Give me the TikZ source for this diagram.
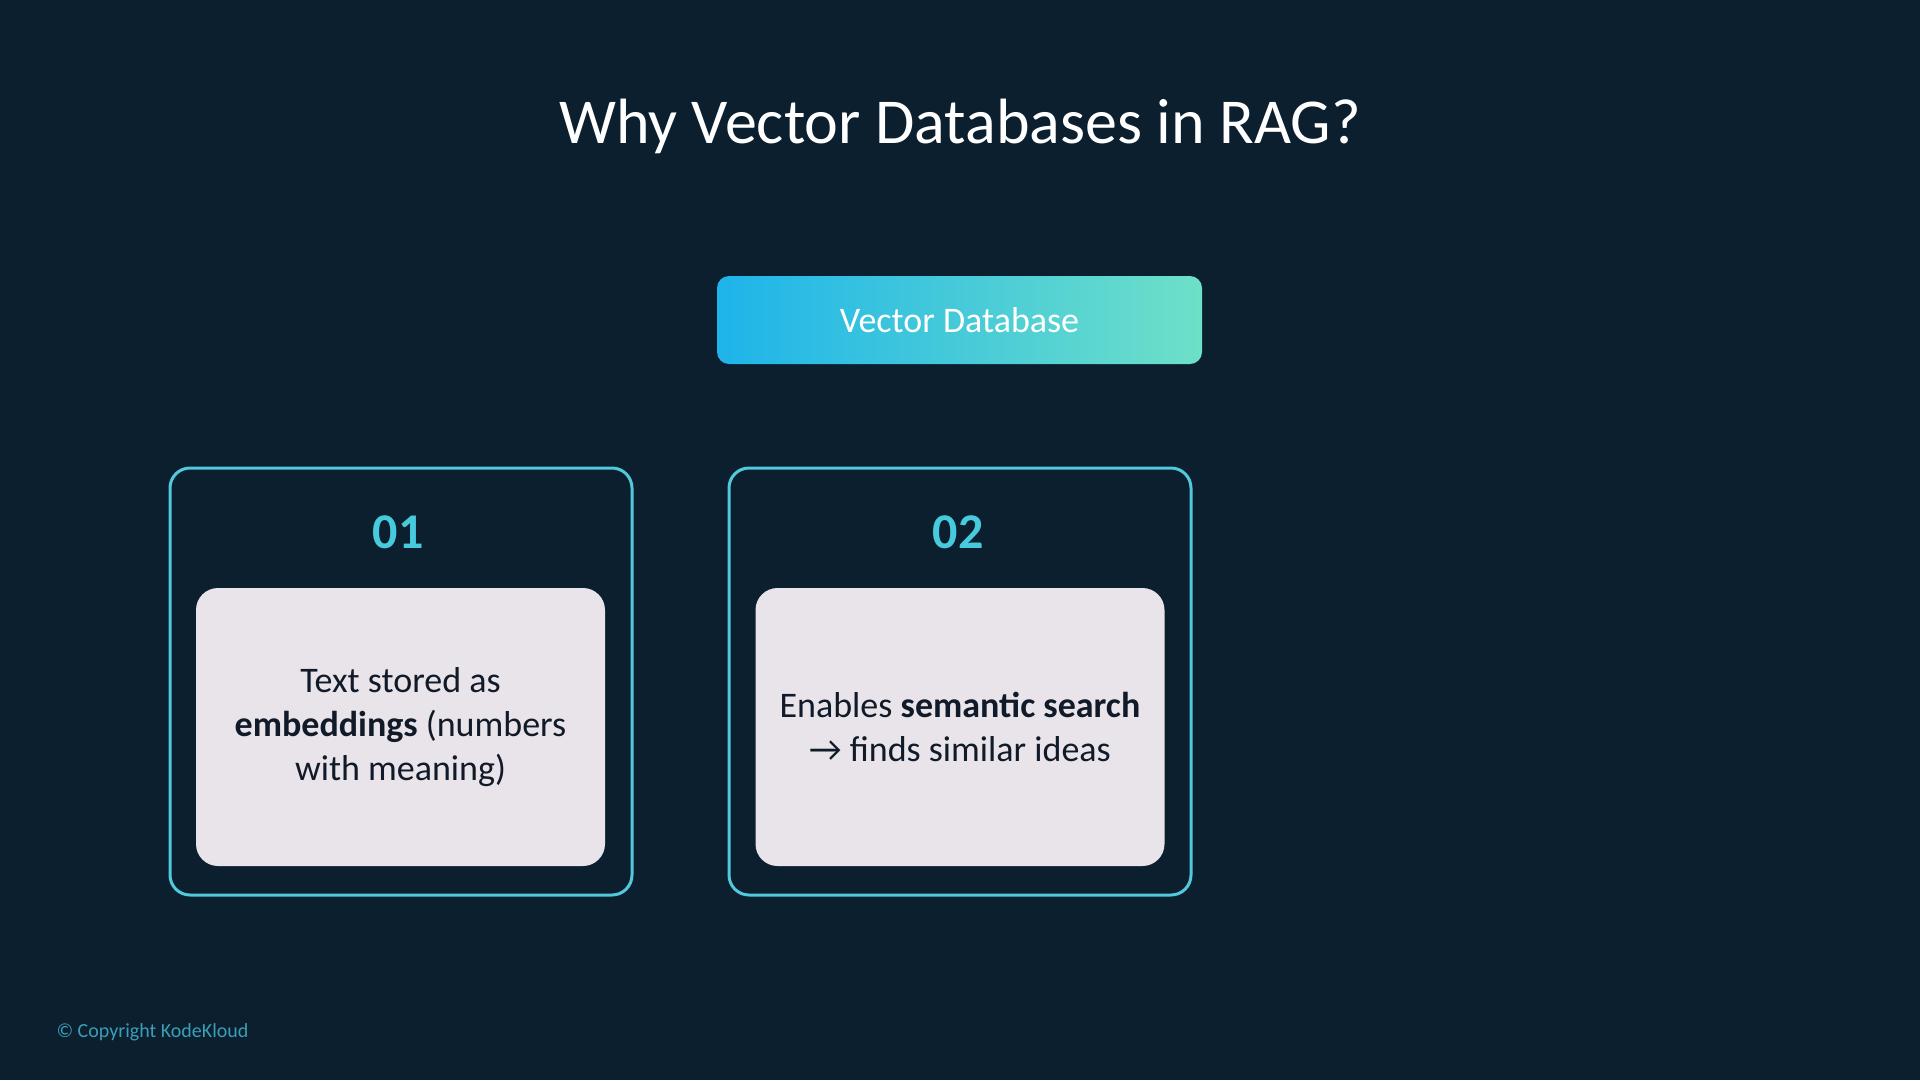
\documentclass[tikz,border=0pt]{standalone}
\usepackage{fontspec}
\setmainfont{Carlito}
\definecolor{bgnavy}{RGB}{12, 31, 46}
\definecolor{skyblue}{RGB}{30, 180, 234}
\definecolor{mintgreen}{RGB}{110, 224, 200}
\definecolor{cardline}{RGB}{82, 200, 220}
\definecolor{cardfill}{RGB}{232, 228, 234}
\definecolor{inkdark}{RGB}{17, 26, 40}
\definecolor{numcyan}{RGB}{72, 202, 222}
\definecolor{copyteal}{RGB}{58, 158, 184}
\usetikzlibrary{positioning}
\tikzstyle{card} = [draw=cardline, line width=3pt, rounded corners=20pt,
                    minimum width=462pt, minimum height=427pt, inner sep=0pt]
\tikzstyle{panel} = [fill=cardfill, rounded corners=22pt, minimum width=409pt,
                     minimum height=278pt, inner sep=0pt, text=inkdark, align=center,
                     font=\fontsize{36}{44}\selectfont]
\tikzstyle{cardnum} = [text=numcyan, font=\fontsize{50}{54}\selectfont\bfseries]

\begin{document}
\begin{tikzpicture}[x=1pt, y=-1pt]
    \fill[bgnavy] (0,0) rectangle (1920,1080);
    \useasboundingbox (0,0) rectangle (1920,1080);
    \node[text=white, font=\fontsize{64}{74}\selectfont] (title) at (960, 126) {Why Vector Databases in RAG?};
    \node[left color=skyblue, right color=mintgreen, rounded corners=12pt, minimum width=485pt,
          minimum height=88pt, text=white, font=\fontsize{36}{40}\selectfont] (vdb) at (959.5, 320) {Vector Database};
    % first card
    \node[card] (card1) at (401, 681.5) {};
    \node[cardnum] (num1) at (398, 532) {01};
    \node[panel] (text1) at (400.5, 727) {Text stored as\\\textbf{embeddings} (numbers\\with meaning)};
    % second card
    \node[card] (card2) at (960, 681.5) {};
    \node[cardnum] (num2) at (958, 532) {02};
    \node[panel] (text2) at (960, 727) {Enables \textbf{semantic search}\\→ finds similar ideas};
    \node[anchor=west, text=copyteal, font=\fontsize{20}{24}\selectfont] (copy) at (53, 1032) {© Copyright KodeKloud};
\end{tikzpicture}
\end{document}
